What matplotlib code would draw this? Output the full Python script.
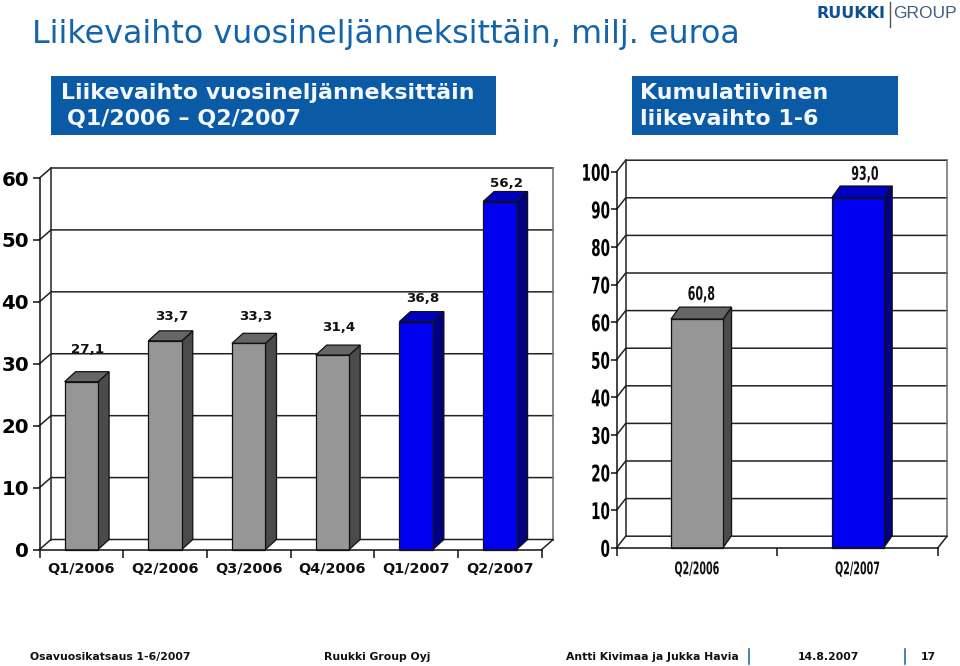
import matplotlib
matplotlib.use("Agg")
import matplotlib.pyplot as plt
from matplotlib.patches import Rectangle, Polygon
from matplotlib.patheffects import AbstractPathEffect
from matplotlib.transforms import Affine2D

# Data
quarters = ["Q1/2006", "Q2/2006", "Q3/2006", "Q4/2006", "Q1/2007", "Q2/2007"]
quarter_values = [27.1, 33.7, 33.3, 31.4, 36.8, 56.2]
quarter_labels = ["27,1", "33,7", "33,3", "31,4", "36,8", "56,2"]
quarter_kinds = ["grey", "grey", "grey", "grey", "blue", "blue"]
cum_periods = ["Q2/2006", "Q2/2007"]
cum_values = [60.8, 93.0]
cum_labels = ["60,8", "93,0"]
cum_kinds = ["grey", "blue"]

# Hand-placed label nudges of the original slide (points)
quarter_nudge = [(3.6, 7.2), (3.6, 1.5), (3.6, 3.6), (3.6, 4.3), (3.6, 0.7), (3.6, -2.9)]
cum_nudge = [(0.7, 0.7), (2.9, 0.0)]

W, H = 960, 666
fig = plt.figure(figsize=(W / 100, H / 100), dpi=100)
page = fig.add_axes([0, 0, 1, 1])
page.set_xlim(0, W); page.set_ylim(H, 0); page.axis("off")

VERD = "DejaVu Sans"
BOX = "#0a5aa6"
COL = {"grey": ("#969696", "#666666", "#4b4b4b"),
       "blue": ("#0000f0", "#0000c0", "#000080")}


class Squeeze(AbstractPathEffect):
    """Narrow a text's glyphs horizontally about its centre or right edge."""

    def __init__(self, sx, anchor="center"):
        super().__init__()
        self.sx, self.anchor = sx, anchor

    def draw_path(self, renderer, gc, tpath, affine, rgbFace=None):
        ext = tpath.get_extents()
        cx = ext.x1 if self.anchor == "right" else (ext.x0 + ext.x1) / 2
        t = Affine2D().translate(-cx, 0).scale(self.sx, 1).translate(cx, 0) + affine
        renderer.draw_path(gc, tpath, t, rgbFace)


def chart(box, ymax, step, cats, vals, labels, kinds, nudges, dpx, dpy, bw, lab_off,
          bar_dpx, bar_dpy, tick_kw, cat_kw, lab_kw, squeeze=None, cat_squeeze=None,
          tick_len=5, tick_pad=3, cat_drop=8.5):
    x0, ytop, x1, ybot = box
    ax = fig.add_axes([x0 / W, 1 - ybot / H, (x1 - x0) / W, (ybot - ytop) / H])
    n = len(cats)
    ax.set_xlim(0, n); ax.set_ylim(0, ymax)
    ax.patch.set_alpha(0)
    ux = (x1 - x0) / n
    uy = (ybot - ytop) / ymax
    dx, dy = dpx / ux, dpy / uy
    ln = dict(color="#222222", lw=1.1, clip_on=False, zorder=1)
    for s in ("top", "right"):
        ax.spines[s].set_visible(False)
    for s in ("left", "bottom"):
        ax.spines[s].set_linewidth(1.1); ax.spines[s].set_color("#111111")
        ax.spines[s].set_zorder(6)
    yticks = list(range(0, ymax + 1, step))
    for v in yticks:
        ax.plot([0, dx, n + dx], [v, v + dy, v + dy], **ln)
    ax.plot([dx, dx], [dy, ymax + dy], **ln)
    ax.plot([n + dx, n + dx], [dy, ymax + dy], color="#777777", lw=1.2, clip_on=False, zorder=1)
    ax.plot([n, n + dx], [0, dy], **ln)
    ax.set_yticks(yticks)
    ax.set_yticklabels([str(v) for v in yticks], **tick_kw)
    ax.set_xticks(range(n + 1))
    ax.set_xticklabels([""] * (n + 1))
    ax.tick_params(axis="y", length=tick_len, width=1.1, pad=tick_pad, color="#111111")
    ax.tick_params(axis="x", length=6, width=1.1, color="#111111")
    if squeeze:
        for t in ax.get_yticklabels():
            t.set_path_effects([Squeeze(squeeze, "right")])
    bx, by = bar_dpx / ux, bar_dpy / uy
    edge = dict(edgecolor="#111111", linewidth=0.9, clip_on=False, zorder=4)
    for i, (c, v, l, k, nd) in enumerate(zip(cats, vals, labels, kinds, nudges)):
        left = i + (1 - bw) / 2
        front, top, side = COL[k]
        ax.add_patch(Polygon([(left + bw, 0), (left + bw + bx, by),
                              (left + bw + bx, v + by), (left + bw, v)],
                             facecolor=side, **edge))
        ax.add_patch(Polygon([(left, v), (left + bx, v + by),
                              (left + bw + bx, v + by), (left + bw, v)],
                             facecolor=top, **edge))
        ax.add_patch(Rectangle((left, 0), bw, v, facecolor=front, **edge))
        vt = ax.annotate(l, (left + bw / 2 + 0.02, v + by + lab_off), xytext=nd,
                         textcoords="offset points", ha="center", va="bottom",
                         zorder=7, annotation_clip=False, **lab_kw)
        ct = ax.annotate(c, (i + 0.5, 0), xytext=(0, -cat_drop), textcoords="offset points",
                         ha="center", va="top", annotation_clip=False, **cat_kw)
        if squeeze:
            vt.set_path_effects([Squeeze(squeeze)])
            ct.set_path_effects([Squeeze(cat_squeeze or squeeze)])
    return ax


chart((39.5, 178, 541.7, 549.5), 60, 10, quarters, quarter_values, quarter_labels,
      quarter_kinds, quarter_nudge, 11.5, 10, 0.4, 0.9, 11, 10,
      dict(family=VERD, weight="bold", fontsize=14.2, color="black"),
      dict(family=VERD, weight="bold", fontsize=10.4, color="#111111"),
      dict(family=VERD, weight="bold", fontsize=9.6, color="#111111"),
      tick_pad=2.5, cat_drop=9)

chart((616.7, 171.7, 938, 547.7), 100, 10, cum_periods, cum_values, cum_labels,
      cum_kinds, cum_nudge, 9, 11.5, 0.324, 0.6, 8.5, 12,
      dict(family=VERD, weight="bold", fontsize=16.5, color="black"),
      dict(family=VERD, weight="bold", fontsize=12.5, color="#111111"),
      dict(family=VERD, weight="bold", fontsize=13.5, color="#111111"),
      squeeze=0.59, cat_squeeze=0.55, tick_len=4, tick_pad=0.5, cat_drop=9)

# Title and header boxes
page.text(32, 34, "Liikevaihto vuosineljänneksittäin, milj. euroa", family=VERD,
          fontsize=22.9, color="#1464ac", va="center", ha="left")
page.add_patch(Rectangle((51, 76), 445, 59, color=BOX, lw=0))
page.add_patch(Rectangle((632, 76), 266, 59, color=BOX, lw=0))
hdr = dict(family=VERD, weight="bold", fontsize=15.9, color="#f4f8fc", va="center")
page.text(61, 93, "Liikevaihto vuosineljänneksittäin", **hdr)
page.text(67, 119, "Q1/2006 – Q2/2007", **hdr)
page.text(640, 93, "Kumulatiivinen", **hdr)
page.text(640, 119, "liikevaihto 1-6", **hdr)

# Logo
page.text(816, 14, "RUUKKI", family=VERD, weight="bold", fontsize=11.5, color="#0f4f8f", va="center")
page.plot([889.5, 889.5], [2, 27], color="#555555", lw=1)
page.text(893, 14, "GROUP", family="Liberation Sans", fontsize=12.5, color="#3f5f7f", va="center")

# Footer
foot = dict(family=VERD, weight="bold", fontsize=7.85, color="#111111", va="center")
page.text(30, 657, "Osavuosikatsaus 1-6/2007", **foot)
page.text(324, 657, "Ruukki Group Oyj", **foot)
page.text(566, 657, "Antti Kivimaa ja Jukka Havia", **foot)
page.text(798, 657, "14.8.2007", **foot)
page.text(921, 657, "17", **foot)
for xp in (749, 905):
    page.plot([xp, xp], [649, 664], color="#1f6fb0", lw=1.2)

fig.savefig("out.png", dpi=100)
